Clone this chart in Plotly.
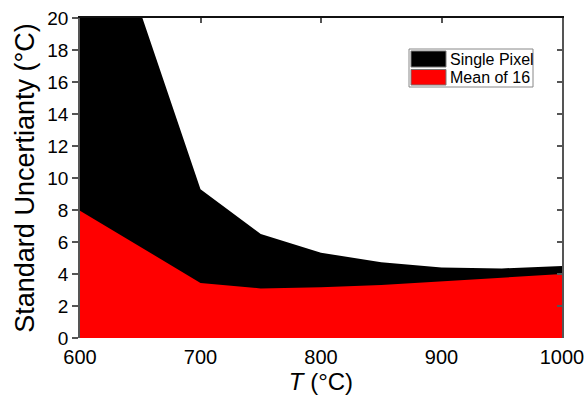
import plotly.graph_objects as go

temps = [600, 700, 750, 800, 850, 900, 950, 1000]
single_pixel = [31.5, 9.3, 6.5, 5.33, 4.73, 4.4, 4.35, 4.5]
mean_of_16 = [7.96, 3.44, 3.1, 3.17, 3.31, 3.56, 3.77, 4.0]
series_names = ["Single Pixel", "Mean of 16"]
series_colors = ["#000000", "#ff0000"]

FONT = "Arial, Liberation Sans, sans-serif"

fig = go.Figure()
fig.add_trace(go.Scatter(x=temps, y=single_pixel, mode="lines", fill="tozeroy",
                         fillcolor=series_colors[0], line=dict(width=0, color=series_colors[0]),
                         name=series_names[0], showlegend=False))
fig.add_trace(go.Scatter(x=temps, y=mean_of_16, mode="lines", fill="tozeroy",
                         fillcolor=series_colors[1], line=dict(width=0, color=series_colors[1]),
                         name=series_names[1], showlegend=False))
# empty trace to create the mirrored (top/right) axes
fig.add_trace(go.Scatter(x=[], y=[], xaxis="x2", yaxis="y2", showlegend=False, hoverinfo="skip"))

fig.update_layout(
    width=584, height=407,
    margin=dict(l=80, r=22, t=18, b=69),
    paper_bgcolor="white", plot_bgcolor="white",
    font=dict(family=FONT, color="black"),
    xaxis=dict(range=[600, 1000], dtick=100, tick0=600, showgrid=False, zeroline=False,
               showline=False, ticks="", tickfont=dict(size=20), ticklabelstandoff=5,
               ticklabeloverflow="allow", automargin=False,
               title=dict(text="<i>T</i> (°C)", font=dict(size=24), standoff=6)),
    yaxis=dict(range=[0, 20], dtick=2, tick0=0, showgrid=False, zeroline=False,
               showline=True, linecolor="#555", linewidth=1.5,
               ticks="outside", ticklen=6, tickcolor="#555", tickwidth=1.5,
               tickfont=dict(size=19), automargin=False,
               title=dict(text="Standard Uncertianty (°C)", font=dict(size=27), standoff=5)),
    xaxis2=dict(range=[600, 1000], dtick=100, tick0=600, overlaying="x", side="top",
                anchor="y2", showgrid=False, zeroline=False, showticklabels=False,
                showline=True, linecolor="#111", linewidth=1.5, automargin=False,
                ticks="inside", ticklen=5, tickcolor="#555", tickwidth=1.5),
    yaxis2=dict(range=[0, 20], dtick=2, tick0=0, overlaying="y", side="right",
                anchor="x2", showgrid=False, zeroline=False, showticklabels=False,
                showline=True, linecolor="#555", linewidth=1.5, automargin=False,
                ticks="inside", ticklen=5, tickcolor="#555", tickwidth=1.5),
)

# legend box (drawn manually to match the large swatches)
def px_x(p):
    return (p - 80) / 482.0

def px_y(p):
    return (338 - p) / 320.0

fig.add_shape(type="rect", xref="paper", yref="paper",
              x0=px_x(409), x1=px_x(533), y0=px_y(87), y1=px_y(49),
              line=dict(color="#888", width=1), fillcolor="white")
rows = [(51, 67), (69.5, 85)]
for (top, bot), name, col in zip(rows, series_names, series_colors):
    fig.add_shape(type="rect", xref="paper", yref="paper",
                  x0=px_x(411), x1=px_x(446), y0=px_y(bot), y1=px_y(top),
                  line=dict(color="#777", width=1), fillcolor=col)
    fig.add_annotation(xref="paper", yref="paper", x=px_x(448), y=px_y((top + bot) / 2),
                       text=name, showarrow=False, xanchor="left", yanchor="middle",
                       font=dict(size=16, family=FONT, color="black"))

fig.write_html("out.html")
